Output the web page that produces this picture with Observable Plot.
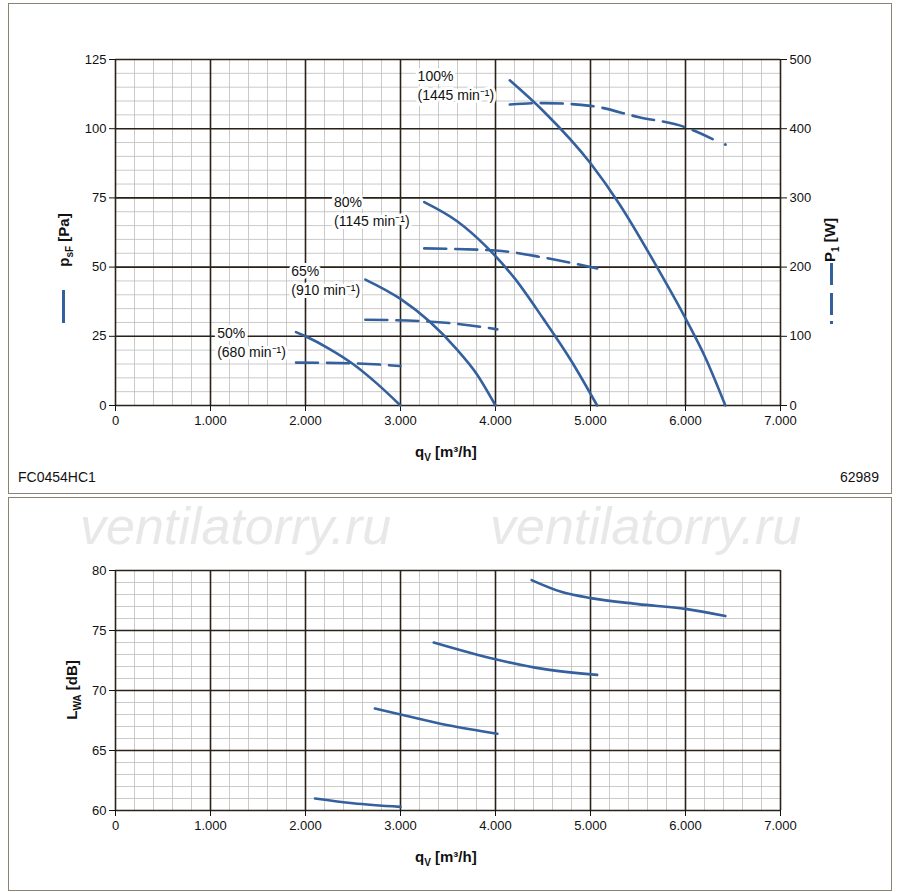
<!DOCTYPE html>
<html><head><meta charset="utf-8">
<script src="https://cdn.jsdelivr.net/npm/d3@7"></script>
<script src="https://cdn.jsdelivr.net/npm/@observablehq/plot@0.6"></script>
<style>
body{margin:0;background:#fff;font-family:"Liberation Sans",Arial,sans-serif;}
#wrap{position:relative;width:900px;height:892px;}
.frame{position:absolute;border:1.5px solid #8a8272;}
.abs{position:absolute;font-size:14px;color:#111;white-space:nowrap;}
.rot{transform:rotate(-90deg);transform-origin:center;font-weight:bold;font-size:15px;}
.wm{position:absolute;font-size:52px;font-style:italic;color:#e8e8e8;top:496px;}
svg{position:absolute;left:0;}
</style></head><body>
<div id="wrap">
<div class="frame" style="left:8px;top:3px;width:882px;height:489px"></div>
<div class="frame" style="left:8px;top:497px;width:882px;height:392px"></div>
<div class="wm" style="left:80px">ventilatorry.ru</div>
<div class="wm" style="left:490px">ventilatorry.ru</div>
<div class="abs" style="left:18px;top:469px">FC0454HC1</div>
<div class="abs" style="left:840px;top:469px">62989</div>
</div>
<script>
const blue="#34609e";
const speeds=["50%","65%","80%","100%"];
const rpm=["(680 min⁻¹)","(910 min⁻¹)","(1145 min⁻¹)","(1445 min⁻¹)"];
const pressure=[
 [[1900,26.5],[2000,25],[2250,20.5],[2500,15],[2750,8],[3000,0]],
 [[2630,45.5],[3000,38.5],[3300,30.5],[3600,20],[3800,11.5],[4000,0]],
 [[3250,73.5],[3600,66.5],[3900,57.5],[4200,46],[4500,31.5],[4800,16],[5070,0]],
 [[4150,117.5],[4500,106.5],[5000,87.5],[5300,73],[5700,50],[6000,31.5],[6200,18],[6420,0]]
];
const power=[
 [[1900,62],[2500,61],[3000,57]],
 [[2630,124],[3200,122],[3600,118],[4020,110]],
 [[3250,227],[4000,224],[4500,214],[5070,198]],
 [[4150,435],[4500,437],[5000,433],[5500,417],[6000,402],[6330,382]]
];
const powerEnd=[[6420,377]];
const sound=[
 [[2100,61.0],[2500,60.6],[3000,60.3]],
 [[2730,68.5],[3000,68.0],[3500,67.1],[4020,66.4]],
 [[3350,74.0],[4000,72.6],[4500,71.8],[5070,71.3]],
 [[4380,79.2],[4700,78.2],[5000,77.7],[5500,77.2],[6000,76.8],[6420,76.2]]
];
const labelPos=[[1070,26],[1850,48.5],[2300,73.5],[3180,119]];
const xTicks=d3.range(0,7001,1000);
const xMinor=d3.range(0,7001,200);
const fmtX=d=>d===0?"0":(d/1000).toFixed(3);
const flat=(arr)=>arr.flatMap((s,i)=>s.map(([q,v])=>({q,v,s:i})));
const P=flat(pressure), W=flat(power), L=flat(sound);

function common(yMinor,yMajor){
 return [
  Plot.ruleX(xMinor,{x:d=>d,stroke:"#bdbdbd",strokeWidth:0.8}),
  Plot.ruleY(yMinor,{y:d=>d,stroke:"#bdbdbd",strokeWidth:0.8}),
  Plot.ruleX(xTicks,{x:d=>d,stroke:"#2a2218",strokeWidth:1.6}),
  Plot.ruleY(yMajor,{y:d=>d,stroke:"#2a2218",strokeWidth:1.6}),
  Plot.axisX({ticks:xTicks,tickFormat:fmtX,tickSize:6,label:null,fontSize:13,tickPadding:4}),
 ];
}
const chartTop=Plot.plot({
 width:900,height:470,marginLeft:115,marginRight:120,marginTop:59,marginBottom:65,
 style:{fontFamily:"Liberation Sans, Arial",fontSize:"13px",color:"#111",overflow:"visible"},
 x:{domain:[0,7000]},y:{domain:[0,125]},
 marks:[
  ...common(d3.range(0,126,5),d3.range(0,126,25)),
  Plot.axisY({ticks:d3.range(0,126,25),tickSize:6,label:null,fontSize:13}),
  Plot.axisY({anchor:"right",ticks:d3.range(0,126,25),tickFormat:d=>d*4,tickSize:6,label:null,fontSize:13}),
  Plot.line(P,{x:"q",y:"v",z:"s",curve:"monotone-x",stroke:blue,strokeWidth:2.6}),
  Plot.line(W,{x:"q",y:d=>d.v/4,z:"s",curve:"monotone-x",stroke:blue,strokeWidth:2.6,strokeDasharray:"22,9"}),
  Plot.dot(powerEnd,{x:d=>d[0],y:d=>d[1]/4,r:1.5,fill:blue}),
  Plot.text(speeds,{x:(d,i)=>labelPos[i][0],y:(d,i)=>labelPos[i][1],text:d=>d,textAnchor:"start",fontSize:14,fill:"#111",stroke:"white",strokeWidth:6,paintOrder:"stroke"}),
  Plot.text(rpm,{x:(d,i)=>labelPos[i][0],y:(d,i)=>labelPos[i][1]-7,text:d=>d,textAnchor:"start",fontSize:14,fill:"#111",stroke:"white",strokeWidth:6,paintOrder:"stroke"})
 ]});
chartTop.style.top="0px";
const chartBot=Plot.plot({
 width:900,height:370,marginLeft:115,marginRight:120,marginTop:73,marginBottom:57,
 style:{fontFamily:"Liberation Sans, Arial",fontSize:"13px",color:"#111",overflow:"visible"},
 x:{domain:[0,7000]},y:{domain:[60,80]},
 marks:[
  ...common(d3.range(60,81,1),d3.range(60,81,5)),
  Plot.axisY({ticks:d3.range(60,81,5),tickSize:6,label:null,fontSize:13}),
  Plot.line(L,{x:"q",y:"v",z:"s",curve:"monotone-x",stroke:blue,strokeWidth:2.6})
 ]});
chartBot.style.top="497px";
const wrap=document.getElementById("wrap");
wrap.appendChild(chartTop);wrap.appendChild(chartBot);
const add=(html,css)=>{const d=document.createElement("div");d.className="abs";d.style.cssText=css;d.innerHTML=html;wrap.appendChild(d);};
add('q<sub style="font-size:10px">V</sub> [m³/h]','left:415px;top:443px;font-weight:bold;font-size:15px');
add('q<sub style="font-size:10px">V</sub> [m³/h]','left:415px;top:848px;font-weight:bold;font-size:15px');
add('<div class="rot">p<sub style="font-size:10px">sF</sub> [Pa]</div>','left:30px;top:230px;width:70px;text-align:center');
add('','left:62px;top:290px;width:3px;height:33px;background:'+blue);
add('<div class="rot">P<sub style="font-size:10px">1</sub> [W]</div>','left:796px;top:230px;width:70px;text-align:center');
add('','left:830px;top:263px;width:3px;height:22px;background:'+blue);
add('','left:830px;top:293px;width:3px;height:22px;background:'+blue);
add('','left:830px;top:321px;width:3px;height:3px;background:'+blue);
add('<div class="rot">L<sub style="font-size:10px">WA</sub> [dB]</div>','left:38px;top:680px;width:70px;text-align:center');
</script>
</body></html>
